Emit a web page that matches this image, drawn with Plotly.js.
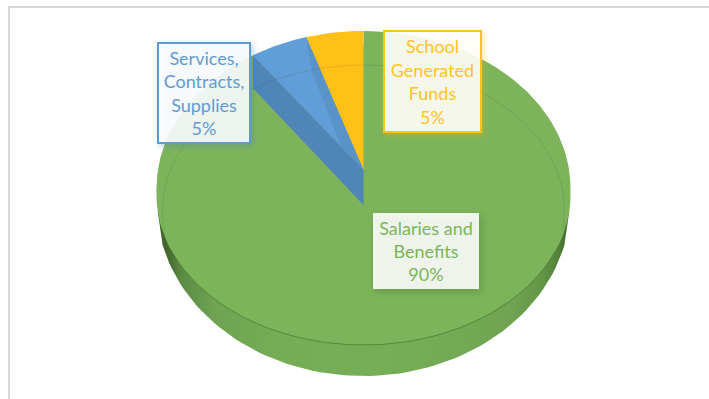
<!DOCTYPE html>
<html>
<head>
<meta charset="utf-8">
<script src="https://cdn.plot.ly/plotly-3.0.1.min.js"></script>
<style>
  html, body { margin: 0; padding: 0; background: #fff; }
  #chart { width: 709px; height: 399px; }
  .annotation[data-index="0"] rect.bg { filter: drop-shadow(2px 2px 3px rgba(70,125,180,.4)); }
  .annotation[data-index="1"] rect.bg { filter: drop-shadow(2px 2px 3px rgba(240,180,20,.35)); }
  .annotation[data-index="2"] rect.bg { filter: drop-shadow(2px 3px 4px rgba(50,90,30,.35)); }
</style>
</head>
<body>
<div id="chart"></div>
<script>
// Budget shares, clockwise from twelve o'clock
const categories = ["Salaries and Benefits", "Services, Contracts, Supplies", "School Generated Funds"];
const shares = [90, 5, 5];
const wrappedLabels = ["Salaries and<br>Benefits", "Services,<br>Contracts,<br>Supplies", "School<br>Generated<br>Funds"];
const sliceColors = ["#7db45b", "#619dd6", "#ffc018"];

// Tilted-disc projection: the far edge is foreshortened against the near edge
const CX = 363.5, TIP_Y = 170, RX = 205.6, RY = 155, PERSP = 0.1147, WALL = 33;
function rim(deg) {
  const t = deg * Math.PI / 180, u = Math.sin(t), v = Math.cos(t), d = 1 + PERSP * v;
  return [CX + RX * u / d, TIP_Y - RY * v / d];
}
function ellipse(cy, rx, ry, from, to) {
  const xs = [], ys = [];
  for (let a = from; a <= to; a += 2) {
    const t = a * Math.PI / 180;
    xs.push(CX + rx * Math.sin(t));
    ys.push(cy - ry * Math.cos(t));
  }
  return [xs, ys];
}
function sector(from, to) {
  const xs = [CX], ys = [TIP_Y];
  for (let a = from; a < to; a += 1) { const p = rim(a); xs.push(p[0]); ys.push(p[1]); }
  const e = rim(to); xs.push(e[0]); ys.push(e[1]);
  xs.push(CX); ys.push(TIP_Y);
  return [xs, ys];
}

const total = shares.reduce((a, b) => a + b, 0);
const edges = [0];
shares.forEach((s, i) => edges.push(edges[i] + s / total * 360));

const poly = (xs, ys, fill, extra) => Object.assign(
  { type: "scatter", mode: "lines", x: xs, y: ys, fill: "toself", fillcolor: fill, line: { width: 0 }, hoverinfo: "skip", showlegend: false },
  extra || {});
const stroke = (xs, ys, color, width) => ({ type: "scatter", mode: "lines", x: xs, y: ys, line: { color: color, width: width }, hoverinfo: "skip", showlegend: false });

const traces = [];
const faceCY = 195, faceRX = 207, faceRY = 150;

// Near half of the outer silhouette, tapering into the top face at both flanks
const hull = ellipse(203.5, 207, 172.5, 104, 256);
const flankStart = ellipse(faceCY, faceRX, faceRY, 96, 96);
const flankEnd = ellipse(faceCY, faceRX, faceRY, 264, 264);
const hullX = flankStart[0].concat(hull[0], flankEnd[0]);
const hullY = flankStart[1].concat(hull[1], flankEnd[1]);
traces.push(poly(hullX, hullY, "#76ae57", {
  fillgradient: {
    type: "horizontal", start: 157, stop: 571,
    colorscale: [[0, "#3f6529"], [0.02, "#3f6529"], [0.06, "#5c8b44"], [0.14, "#6fa352"], [0.3, "#75ad56"], [0.5, "#76ae57"],
                 [0.7, "#74aa55"], [0.86, "#6fa351"], [0.93, "#639747"], [0.97, "#527f38"], [1, "#3f6529"]]
  }
}));

// Flat top face reaching the seam with the side wall
const face = ellipse(faceCY, faceRX, faceRY, 0, 360);
traces.push(poly(face[0], face[1], sliceColors[0]));

// Top faces, one per category
const green = sector(edges[0], edges[1]);
traces.push(poly(green[0], green[1], sliceColors[0], { name: categories[0] }));
const blue = sector(edges[1], edges[2]);
traces.push(poly(blue[0], blue[1], sliceColors[1], { name: categories[1] }));
const gold = sector(edges[2], edges[3]);
traces.push(poly(gold[0], gold[1], sliceColors[2], { name: categories[2] }));

// Darker inner wedge of the blue slice, beside the gold one
const innerAt = deg => { const a = deg * Math.PI / 180; return [CX + 201 * Math.sin(a), 210 - 145 * Math.cos(a)]; };
const splitRim = rim(edges[2]);
const ringSplit = innerAt(edges[2] + 3);
const ringFloor = innerAt(edges[1] + 10.5);
const floorTip = [CX + (ringFloor[0] - CX) * 0.26, TIP_Y + (ringFloor[1] - TIP_Y) * 0.26];
traces.push(poly(
  [splitRim[0], ringSplit[0], floorTip[0], CX, splitRim[0]],
  [splitRim[1], ringSplit[1], floorTip[1], TIP_Y, splitRim[1]],
  "#5a93c8"));

// Side wall below the blue slice
const wa = rim(edges[1]);
traces.push(poly(
  [wa[0], CX, CX, wa[0], wa[0]],
  [wa[1], TIP_Y, TIP_Y + 35, wa[1] + WALL, wa[1]],
  "#4f86b7"));

// Seam between the top face and the side wall
const seam = ellipse(faceCY, faceRX, faceRY, 112, 248);
traces.push(stroke(seam[0], seam[1], "rgba(75,120,50,.75)", 1));

// Faint bevel line around the far half
const ring = ellipse(210, 201, 145, 262, 458);
traces.push(stroke(ring[0], ring[1], "rgba(50,70,40,.14)", 1));

function box(i, left, top, right, bottom, color, border) {
  return {
    x: (left + right) / 2, y: (top + bottom) / 2, xref: "x", yref: "y",
    xanchor: "center", yanchor: "middle", showarrow: false, align: "center",
    text: wrappedLabels[i] + "<br>" + shares[i] + "%",
    width: right - left - (border ? 4 : 0), height: bottom - top - (border ? 4 : 0),
    borderpad: 0,
    bgcolor: "rgba(255,255,255,.89)",
    bordercolor: border ? color : "rgba(0,0,0,0)",
    borderwidth: border ? 2 : 0,
    font: { family: "Lato, sans-serif", size: 18, color: color }
  };
}

const layout = {
  width: 709, height: 399,
  margin: { l: 0, r: 0, t: 0, b: 0 },
  paper_bgcolor: "#fff", plot_bgcolor: "#fff",
  xaxis: { range: [0, 709], visible: false, fixedrange: true },
  yaxis: { range: [399, 0], visible: false, fixedrange: true },
  showlegend: false,
  hovermode: false,
  shapes: [
    { type: "line", x0: 8, x1: 709, y0: 7, y1: 7, line: { color: "#d9d9d9", width: 2 } },
    { type: "line", x0: 9, x1: 9, y0: 6, y1: 399, line: { color: "#d9d9d9", width: 2 } }
  ],
  annotations: [
    box(1, 157, 42, 251, 144, "#5f9bd1", true),
    box(2, 383, 30, 482, 133, "#ffc31e", true),
    box(0, 373, 213, 479, 289, "#7cb45a", false)
  ]
};

Plotly.newPlot("chart", traces, layout, { displayModeBar: false, staticPlot: true });
</script>
</body>
</html>
